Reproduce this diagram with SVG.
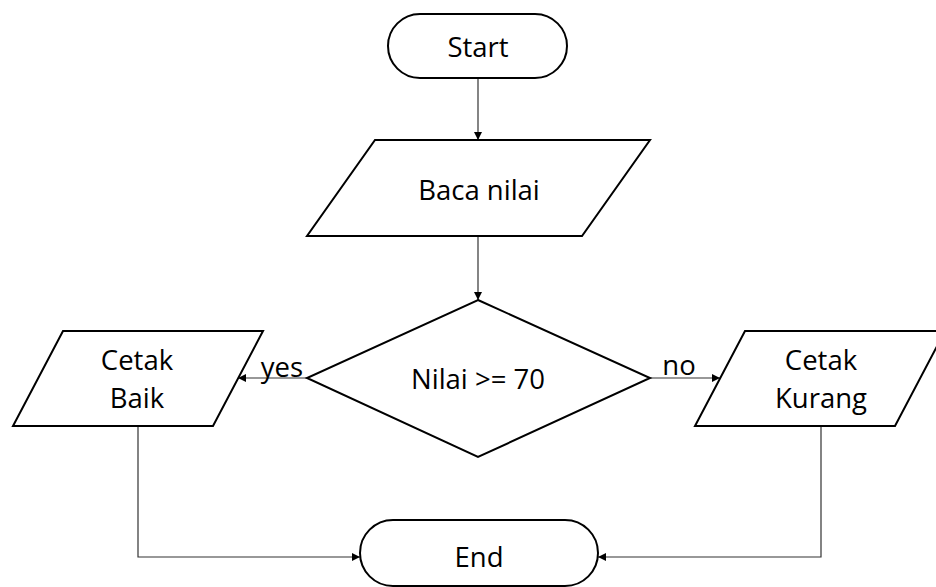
<svg xmlns="http://www.w3.org/2000/svg" width="936" height="587" viewBox="0 0 936 587">
<style>
.s{fill:#fff;stroke:#000;stroke-width:2}
.t{font-family:"Open Sans","Noto Sans",sans-serif;font-size:27.5px;fill:#000;text-anchor:middle}
.c{fill:none;stroke:#333;stroke-width:1.2}
</style>
<defs>
<marker id="a" viewBox="0 0 10 10" refX="10" refY="5" markerWidth="8" markerHeight="8" markerUnits="userSpaceOnUse" orient="auto"><path d="M0,0L10,5L0,10z" fill="#000"/></marker>
</defs>
<rect width="936" height="587" fill="#fff"/>
<g id="connectors">
<line class="c" x1="478" y1="78" x2="478" y2="140" marker-end="url(#a)"/>
<line class="c" x1="478" y1="236" x2="478" y2="300" marker-end="url(#a)"/>
<line class="c" x1="307" y1="378" x2="238" y2="378" marker-end="url(#a)"/>
<line class="c" x1="650" y1="378" x2="720" y2="378" marker-end="url(#a)"/>
<polyline class="c" points="138,426 138,557 360,557" marker-end="url(#a)"/>
<polyline class="c" points="821,426 821,557 598,557" marker-end="url(#a)"/>
<text class="t" x="282" y="377">yes</text>
<text class="t" x="679" y="375">no</text>
</g>
<g id="start"><rect class="s" x="388" y="14" width="179" height="64" rx="32"/><text class="t" x="478" y="57">Start</text></g>
<g id="baca"><polygon class="s" points="375,140 650,140 582,236 307,236"/><text class="t" x="479" y="200">Baca nilai</text></g>
<g id="decision"><polygon class="s" points="478,300 650,378 478,457 307,378"/><text class="t" x="478" y="389">Nilai &gt;= 70</text></g>
<g id="baik"><polygon class="s" points="63,331 263,331 213,426 13,426"/><text class="t" x="137" y="370">Cetak</text><text class="t" x="137" y="408">Baik</text></g>
<g id="kurang"><polygon class="s" points="745,331 945,331 895,426 695,426"/><text class="t" x="821" y="370">Cetak</text><text class="t" x="821" y="408">Kurang</text></g>
<g id="end"><rect class="s" x="360" y="520" width="238" height="66" rx="33"/><text class="t" x="479" y="567">End</text></g>
</svg>
